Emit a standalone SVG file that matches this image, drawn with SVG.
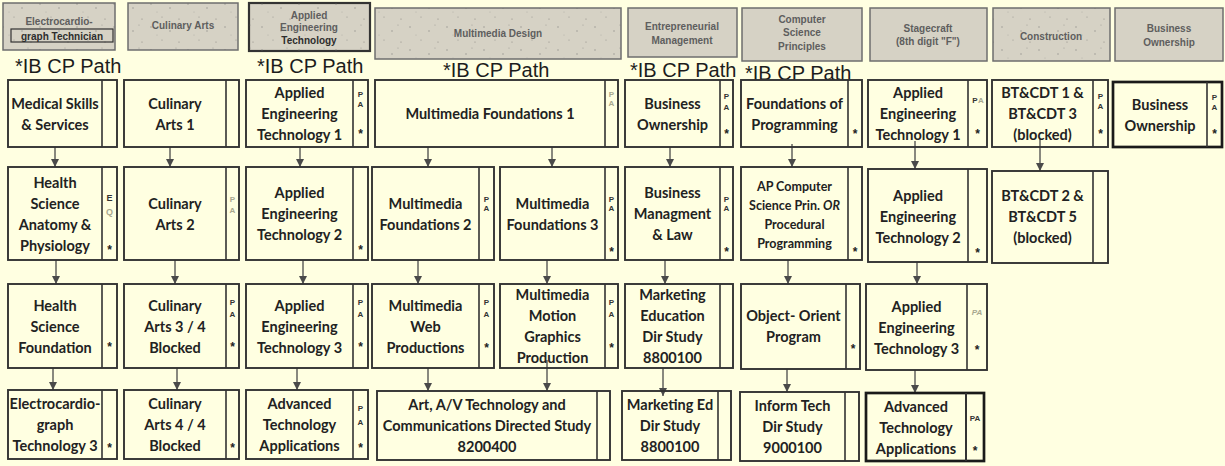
<svg xmlns="http://www.w3.org/2000/svg" width="1225" height="466" viewBox="0 0 1225 466">
<style>
.bg{fill:#FFFFE1}
.bx{fill:none;stroke:#333;stroke-width:1.9}
.bk{fill:none;stroke:#1a1a1a;stroke-width:2.7}
.dv{stroke:#333;stroke-width:1.6}
.t{font-family:Lato,"Open Sans",sans-serif;font-weight:bold;font-size:14.5px;fill:#222;text-anchor:middle;dominant-baseline:central}
.ts{font-size:12.5px}
.s{font-family:"Liberation Sans",Arial,sans-serif;font-weight:bold;font-size:8px;fill:#333;text-anchor:middle;dominant-baseline:central}
.st{font-family:"Liberation Sans",Arial,sans-serif;font-weight:bold;font-size:12px;fill:#222;text-anchor:middle;dominant-baseline:central}
.f{fill:#a8a890}
.h{font-family:"Liberation Sans",Arial,sans-serif;font-weight:bold;font-size:10px;fill:#5e5e5e;text-anchor:middle;dominant-baseline:central}
.hd{fill:#2e2e2e}
.hb{fill:#D6D2C5;stroke:#6e6e6e;stroke-width:1.5}
.hk{fill:#D6D2C5;stroke:#333;stroke-width:2.2}
.ib{font-family:"Liberation Sans",Arial,sans-serif;font-size:20px;fill:#1c1c1c}
.ar{stroke:#4a4a4a;stroke-width:1.3;fill:none;marker-end:url(#ah)}
</style>
<defs>
<marker id="ah" viewBox="0 0 8 8" refX="8" refY="4" markerWidth="8" markerHeight="8" markerUnits="userSpaceOnUse" orient="auto">
<path d="M0,0 L8,4 L0,8 z" fill="#4a4a4a"/>
</marker>
<pattern id="spk" width="37" height="23" patternUnits="userSpaceOnUse">
<circle cx="3" cy="4" r="0.7" fill="#666" opacity="0.6"/>
<circle cx="14" cy="17" r="0.6" fill="#555" opacity="0.5"/>
<circle cx="22" cy="8" r="0.8" fill="#666" opacity="0.5"/>
<circle cx="31" cy="19" r="0.6" fill="#555" opacity="0.6"/>
<circle cx="9" cy="12" r="0.5" fill="#777" opacity="0.5"/>
<circle cx="28" cy="2" r="0.6" fill="#666" opacity="0.5"/>
</pattern>
</defs>
<rect class="bg" x="0" y="0" width="1225" height="466"/>

<!-- headers -->
<g id="h-ecg">
<rect class="hb" x="3" y="3" width="112" height="47"/><rect x="3" y="3" width="112" height="47" fill="url(#spk)"/>
<rect x="11" y="29" width="102" height="13" fill="none" stroke="#333" stroke-width="1.2"/>
<text class="h" x="59" y="21">Electrocardio-</text>
<text class="h hd" x="62" y="36">graph Technician</text>
</g>
<g id="h-culinary">
<rect class="hb" x="128" y="3" width="110" height="47"/><rect x="128" y="3" width="110" height="47" fill="url(#spk)"/>
<text class="h" x="183" y="25">Culinary Arts</text>
</g>
<g id="h-aet">
<rect class="hk" x="249" y="3" width="121" height="48"/><rect x="249" y="3" width="121" height="48" fill="url(#spk)"/>
<text class="h" x="309" y="15">Applied</text>
<text class="h" x="309" y="27">Engineering</text>
<text class="h hd" x="309" y="40">Technology</text>
</g>
<g id="h-mm">
<rect class="hb" x="375" y="8" width="246" height="51"/><rect x="375" y="8" width="246" height="51" fill="url(#spk)"/>
<text class="h" x="498" y="33">Multimedia Design</text>
</g>
<g id="h-ent">
<rect class="hb" x="628" y="8" width="109" height="49"/>
<text class="h" x="682" y="26">Entrepreneurial</text>
<text class="h" x="682" y="40">Management</text>
</g>
<g id="h-cs">
<rect class="hb" x="742" y="8" width="120" height="53"/>
<text class="h" x="802" y="19">Computer</text>
<text class="h" x="802" y="32">Science</text>
<text class="h" x="802" y="46">Principles</text>
</g>
<g id="h-stage">
<rect class="hb" x="870" y="8" width="117" height="53"/>
<text class="h" x="928" y="28">Stagecraft</text>
<text class="h" x="928" y="41">(8th digit "F")</text>
</g>
<g id="h-con">
<rect class="hb" x="993" y="8" width="117" height="53"/><rect x="993" y="8" width="117" height="53" fill="url(#spk)"/>
<text class="h" x="1051" y="36">Construction</text>
</g>
<g id="h-bo">
<rect class="hb" x="1115" y="8" width="108" height="53"/>
<text class="h" x="1169" y="28">Business</text>
<text class="h" x="1169" y="42">Ownership</text>
</g>

<!-- IB CP Path labels -->
<g id="ib-labels">
<text class="ib" x="15" y="73">*IB CP Path</text>
<text class="ib" x="257" y="73">*IB CP Path</text>
<text class="ib" x="443" y="77">*IB CP Path</text>
<text class="ib" x="630" y="77">*IB CP Path</text>
<text class="ib" x="745" y="80">*IB CP Path</text>
</g>

<!-- connectors -->
<g id="connectors">
<line class="ar" x1="55" y1="147" x2="55" y2="167"/>
<line class="ar" x1="170" y1="147" x2="170" y2="167"/>
<line class="ar" x1="300" y1="147" x2="300" y2="167"/>
<line class="ar" x1="428" y1="147" x2="428" y2="167"/>
<line class="ar" x1="552" y1="147" x2="552" y2="167"/>
<line class="ar" x1="670" y1="147" x2="670" y2="167"/>
<line class="ar" x1="792" y1="144" x2="792" y2="167"/>
<line class="ar" x1="915" y1="141" x2="915" y2="169"/>
<line class="ar" x1="1040" y1="139" x2="1040" y2="171"/>

<line class="ar" x1="56" y1="260" x2="56" y2="284"/>
<line class="ar" x1="175" y1="260" x2="175" y2="284"/>
<line class="ar" x1="303" y1="260" x2="303" y2="284"/>
<line class="ar" x1="418" y1="260" x2="418" y2="284"/>
<line class="ar" x1="547" y1="260" x2="547" y2="284"/>
<line class="ar" x1="665" y1="260" x2="665" y2="284"/>
<line class="ar" x1="788" y1="260" x2="788" y2="284"/>
<line class="ar" x1="917" y1="262" x2="917" y2="284"/>

<line class="ar" x1="53" y1="368" x2="53" y2="390"/>
<line class="ar" x1="177" y1="368" x2="177" y2="390"/>
<line class="ar" x1="297" y1="368" x2="297" y2="390"/>
<line class="ar" x1="428" y1="368" x2="428" y2="391"/>
<line class="ar" x1="547" y1="360" x2="547" y2="391"/>
<line class="ar" x1="663" y1="368" x2="663" y2="396"/>
<line class="ar" x1="787" y1="369" x2="787" y2="392"/>
<line class="ar" x1="915" y1="370" x2="915" y2="393"/>
</g>

<!-- Row 1 -->
<g id="n-r1c1">
<rect class="bx" x="8" y="80" width="109" height="67"/><line class="dv" x1="102" y1="80" x2="102" y2="147"/>
<text class="t" x="55" y="103">Medical Skills</text><text class="t" x="55" y="124">&amp; Services</text>
</g>
<g id="n-r1c2">
<rect class="bx" x="124" y="80" width="115" height="67"/><line class="dv" x1="226" y1="80" x2="226" y2="147"/>
<text class="t" x="175" y="103">Culinary</text><text class="t" x="175" y="124">Arts 1</text>
</g>
<g id="n-r1c3">
<rect class="bx" x="246" y="80" width="122" height="67"/><line class="dv" x1="353" y1="80" x2="353" y2="147"/>
<text class="t" x="299.5" y="92.5">Applied</text><text class="t" x="299.5" y="113.5">Engineering</text><text class="t" x="299.5" y="134.5">Technology 1</text>
<text class="s" x="360.5" y="94">P</text><text class="s" x="360.5" y="104">A</text><text class="st" x="360.5" y="134">*</text>
</g>
<g id="n-r1mm">
<rect class="bx" x="375" y="80" width="243" height="67"/><line class="dv" x1="605" y1="80" x2="605" y2="147"/>
<text class="t" x="490" y="113.5">Multimedia Foundations 1</text>
<text class="s f" x="611.5" y="94">P</text><text class="s f" x="611.5" y="103">A</text>
</g>
<g id="n-r1bus">
<rect class="bx" x="625" y="80" width="108" height="67"/><line class="dv" x1="720" y1="80" x2="720" y2="147"/>
<text class="t" x="672.5" y="103">Business</text><text class="t" x="672.5" y="124">Ownership</text>
<text class="s" x="726.5" y="96">P</text><text class="s" x="726.5" y="107">A</text><text class="st" x="726.5" y="134">*</text>
</g>
<g id="n-r1cs">
<rect class="bx" x="741" y="80" width="121" height="67"/><line class="dv" x1="848" y1="80" x2="848" y2="147"/>
<text class="t" x="794.5" y="103">Foundations of</text><text class="t" x="794.5" y="124">Programming</text>
<text class="st" x="855" y="134">*</text>
</g>
<g id="n-r1st">
<rect class="bx" x="868" y="80" width="119" height="67"/><line class="dv" x1="968" y1="80" x2="968" y2="147"/>
<text class="t" x="918" y="92.5">Applied</text><text class="t" x="918" y="113.5">Engineering</text><text class="t" x="918" y="134.5">Technology 1</text>
<text class="s" x="975" y="100">P</text><text class="s f" x="981" y="100">A</text><text class="st" x="977.5" y="134">*</text>
</g>
<g id="n-r1con">
<rect class="bx" x="992" y="80" width="116" height="67"/><line class="dv" x1="1093" y1="80" x2="1093" y2="147"/>
<text class="t" x="1042.5" y="92.5">BT&amp;CDT 1 &amp;</text><text class="t" x="1042.5" y="113.5">BT&amp;CDT 3</text><text class="t" x="1042.5" y="134.5">(blocked)</text>
<text class="s" x="1100.5" y="96">P</text><text class="s" x="1100.5" y="106">A</text><text class="st" x="1100.5" y="134">*</text>
</g>
<g id="n-r1bo">
<rect class="bk" x="1113" y="82" width="109" height="65"/><line class="dv" x1="1207" y1="82" x2="1207" y2="147"/>
<text class="t" x="1160" y="104">Business</text><text class="t" x="1160" y="125">Ownership</text>
<text class="s" x="1214.5" y="97">P</text><text class="s" x="1214.5" y="107">A</text><text class="st" x="1214.5" y="134">*</text>
</g>

<!-- Row 2 -->
<g id="n-r2c1">
<rect class="bx" x="8" y="167" width="109" height="93"/><line class="dv" x1="102" y1="167" x2="102" y2="260"/>
<text class="t" x="55" y="182">Health</text><text class="t" x="55" y="203">Science</text><text class="t" x="55" y="224">Anatomy &amp;</text><text class="t" x="55" y="245">Physiology</text>
<text class="s" x="109.5" y="198" style="font-size:9px">E</text><text class="s f" x="109.5" y="212" style="font-size:9px">Q</text><text class="st" x="109.5" y="250">*</text>
</g>
<g id="n-r2c2">
<rect class="bx" x="124" y="167" width="115" height="93"/><line class="dv" x1="226" y1="167" x2="226" y2="260"/>
<text class="t" x="175" y="203">Culinary</text><text class="t" x="175" y="224">Arts 2</text>
<text class="s f" x="232.5" y="199">P</text><text class="s f" x="232.5" y="210">A</text>
</g>
<g id="n-r2c3">
<rect class="bx" x="246" y="167" width="122" height="93"/><line class="dv" x1="353" y1="167" x2="353" y2="260"/>
<text class="t" x="299.5" y="192.5">Applied</text><text class="t" x="299.5" y="213.5">Engineering</text><text class="t" x="299.5" y="234.5">Technology 2</text>
<text class="st" x="360.5" y="250">*</text>
</g>
<g id="n-r2mm2">
<rect class="bx" x="372" y="167" width="122" height="93"/><line class="dv" x1="479" y1="167" x2="479" y2="260"/>
<text class="t" x="425.5" y="203">Multimedia</text><text class="t" x="425.5" y="224">Foundations 2</text>
<text class="s" x="486.5" y="199">P</text><text class="s" x="486.5" y="208">A</text>
</g>
<g id="n-r2mm3">
<rect class="bx" x="500" y="167" width="118" height="93"/><line class="dv" x1="605" y1="167" x2="605" y2="260"/>
<text class="t" x="552.5" y="203">Multimedia</text><text class="t" x="552.5" y="224">Foundations 3</text>
<text class="s" x="611.5" y="199">P</text><text class="s" x="611.5" y="208">A</text><text class="st" x="611.5" y="252">*</text>
</g>
<g id="n-r2bus">
<rect class="bx" x="625" y="167" width="108" height="93"/><line class="dv" x1="720" y1="167" x2="720" y2="260"/>
<text class="t" x="672.5" y="192.5">Business</text><text class="t" x="672.5" y="213.5">Managment</text><text class="t" x="672.5" y="234.5">&amp; Law</text>
<text class="s" x="726.5" y="199">P</text><text class="s" x="726.5" y="208">A</text><text class="st" x="726.5" y="252">*</text>
</g>
<g id="n-r2cs">
<rect class="bx" x="741" y="167" width="121" height="93"/><line class="dv" x1="848" y1="167" x2="848" y2="260"/>
<text class="t ts" x="794.5" y="186">AP Computer</text><text class="t ts" x="794.5" y="205">Science Prin. <tspan font-style="italic">OR</tspan></text><text class="t ts" x="794.5" y="224">Procedural</text><text class="t ts" x="794.5" y="243">Programming</text>
<text class="st" x="855" y="252">*</text>
</g>
<g id="n-r2st">
<rect class="bx" x="868" y="169" width="119" height="93"/><line class="dv" x1="968" y1="169" x2="968" y2="262"/>
<text class="t" x="918" y="195">Applied</text><text class="t" x="918" y="216">Engineering</text><text class="t" x="918" y="237">Technology 2</text>
<text class="st" x="977.5" y="253">*</text>
</g>
<g id="n-r2con">
<rect class="bx" x="992" y="171" width="116" height="92"/><line class="dv" x1="1093" y1="171" x2="1093" y2="263"/>
<text class="t" x="1042.5" y="195">BT&amp;CDT 2 &amp;</text><text class="t" x="1042.5" y="216">BT&amp;CDT 5</text><text class="t" x="1042.5" y="237">(blocked)</text>
</g>

<!-- Row 3 -->
<g id="n-r3c1">
<rect class="bx" x="8" y="284" width="109" height="84"/><line class="dv" x1="102" y1="284" x2="102" y2="368"/>
<text class="t" x="55" y="305">Health</text><text class="t" x="55" y="326">Science</text><text class="t" x="55" y="347">Foundation</text>
<text class="st" x="109.5" y="347">*</text>
</g>
<g id="n-r3c2">
<rect class="bx" x="124" y="284" width="115" height="84"/><line class="dv" x1="226" y1="284" x2="226" y2="368"/>
<text class="t" x="175" y="305">Culinary</text><text class="t" x="175" y="326">Arts 3 / 4</text><text class="t" x="175" y="347">Blocked</text>
<text class="s" x="232.5" y="302">P</text><text class="s" x="232.5" y="314">A</text><text class="st" x="232.5" y="347">*</text>
</g>
<g id="n-r3c3">
<rect class="bx" x="246" y="284" width="122" height="84"/><line class="dv" x1="353" y1="284" x2="353" y2="368"/>
<text class="t" x="299.5" y="305">Applied</text><text class="t" x="299.5" y="326">Engineering</text><text class="t" x="299.5" y="347">Technology 3</text>
<text class="s" x="360.5" y="302">P</text><text class="s" x="360.5" y="314">A</text><text class="st" x="360.5" y="347">*</text>
</g>
<g id="n-r3mmw">
<rect class="bx" x="372" y="284" width="122" height="84"/><line class="dv" x1="479" y1="284" x2="479" y2="368"/>
<text class="t" x="425.5" y="305">Multimedia</text><text class="t" x="425.5" y="326">Web</text><text class="t" x="425.5" y="347">Productions</text>
<text class="s" x="486.5" y="302">P</text><text class="s" x="486.5" y="314">A</text><text class="st" x="486.5" y="348">*</text>
</g>
<g id="n-r3mmm">
<rect class="bx" x="500" y="284" width="118" height="84"/><line class="dv" x1="605" y1="284" x2="605" y2="368"/>
<text class="t" x="552.5" y="294.5">Multimedia</text><text class="t" x="552.5" y="315.5">Motion</text><text class="t" x="552.5" y="336.5">Graphics</text><text class="t" x="552.5" y="357.5">Production</text>
<text class="s" x="611.5" y="302">P</text><text class="s" x="611.5" y="314">A</text><text class="st" x="611.5" y="348">*</text>
</g>
<g id="n-r3bus">
<rect class="bx" x="625" y="284" width="108" height="84"/><line class="dv" x1="720" y1="284" x2="720" y2="368"/>
<text class="t" x="672.5" y="294.5">Marketing</text><text class="t" x="672.5" y="315.5">Education</text><text class="t" x="672.5" y="336.5">Dir Study</text><text class="t" x="672.5" y="357.5">8800100</text>
</g>
<g id="n-r3cs">
<rect class="bx" x="741" y="284" width="119" height="85"/><line class="dv" x1="846" y1="284" x2="846" y2="369"/>
<text class="t" x="793.5" y="315.5">Object- Orient</text><text class="t" x="793.5" y="336.5">Program</text>
<text class="st" x="853" y="349">*</text>
</g>
<g id="n-r3st">
<rect class="bx" x="866" y="284" width="121" height="86"/><line class="dv" x1="967" y1="284" x2="967" y2="370"/>
<text class="t" x="916.5" y="306">Applied</text><text class="t" x="916.5" y="327">Engineering</text><text class="t" x="916.5" y="348">Technology 3</text>
<text class="s f" x="977" y="312" style="font-style:italic">PA</text><text class="st" x="977" y="350">*</text>
</g>

<!-- Row 4 -->
<g id="n-r4c1">
<rect class="bx" x="8" y="390" width="109" height="69"/><line class="dv" x1="102" y1="390" x2="102" y2="459"/>
<text class="t" x="55" y="403.5">Electrocardio-</text><text class="t" x="55" y="424.5">graph</text><text class="t" x="55" y="445.5">Technology 3</text>
<text class="st" x="109.5" y="448">*</text>
</g>
<g id="n-r4c2">
<rect class="bx" x="124" y="390" width="115" height="69"/><line class="dv" x1="226" y1="390" x2="226" y2="459"/>
<text class="t" x="175" y="403.5">Culinary</text><text class="t" x="175" y="424.5">Arts 4 / 4</text><text class="t" x="175" y="445.5">Blocked</text>
<text class="st" x="232.5" y="448">*</text>
</g>
<g id="n-r4c3">
<rect class="bx" x="246" y="390" width="122" height="69"/><line class="dv" x1="353" y1="390" x2="353" y2="459"/>
<text class="t" x="299.5" y="403.5">Advanced</text><text class="t" x="299.5" y="424.5">Technology</text><text class="t" x="299.5" y="445.5">Applications</text>
<text class="s" x="360.5" y="408">P</text><text class="s" x="360.5" y="422">A</text><text class="st" x="360.5" y="448">*</text>
</g>
<g id="n-r4av">
<rect class="bx" x="377" y="391" width="233" height="69"/><line class="dv" x1="597" y1="391" x2="597" y2="460"/>
<text class="t" x="487" y="404.5">Art, A/V Technology and</text><text class="t" x="487" y="425.5">Communications Directed Study</text><text class="t" x="487" y="446.5">8200400</text>
</g>
<g id="n-r4bus">
<rect class="bx" x="622" y="391" width="109" height="69"/><line class="dv" x1="718" y1="391" x2="718" y2="460"/>
<text class="t" x="670" y="404.5">Marketing Ed</text><text class="t" x="670" y="425.5">Dir Study</text><text class="t" x="670" y="446.5">8800100</text>
</g>
<g id="n-r4cs">
<rect class="bx" x="740" y="392" width="119" height="69"/><line class="dv" x1="845" y1="392" x2="845" y2="461"/>
<text class="t" x="792.5" y="405.5">Inform Tech</text><text class="t" x="792.5" y="426.5">Dir Study</text><text class="t" x="792.5" y="447.5">9000100</text>
</g>
<g id="n-r4st">
<rect class="bk" x="866" y="393" width="118" height="68"/><line class="dv" x1="966" y1="393" x2="966" y2="461" style="stroke-width:2"/>
<text class="t" x="916" y="406.5">Advanced</text><text class="t" x="916" y="427.5">Technology</text><text class="t" x="916" y="448.5">Applications</text>
<text class="s" x="975" y="418">PA</text><text class="st" x="975" y="451">*</text>
</g>
</svg>
